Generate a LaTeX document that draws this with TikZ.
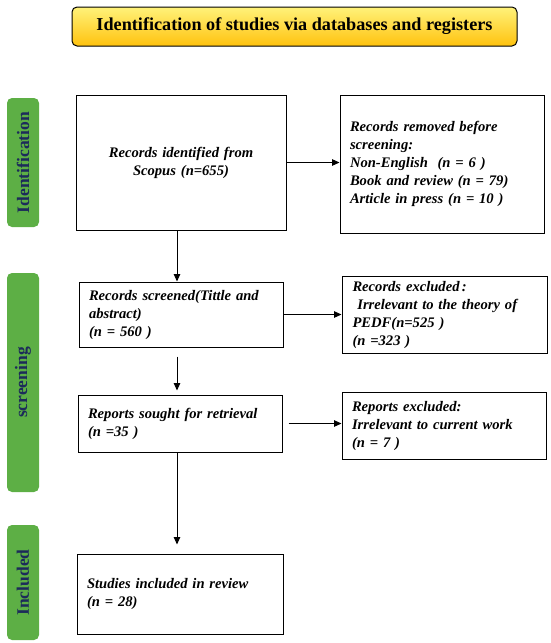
\documentclass[tikz,border=0pt]{standalone}
\usepackage{fontspec}
\setmainfont{Liberation Serif}
\usetikzlibrary{arrows.meta}

\definecolor{phasegreen}{HTML}{5DAF45}
\definecolor{phasetext}{HTML}{1C2B5A}
\definecolor{titletop}{HTML}{FFF27A}
\definecolor{titlebot}{HTML}{FFC20E}

\begin{document}
\begin{tikzpicture}[x=1pt,y=-1pt,
	box/.style={draw,line width=1pt,inner xsep=10pt,font=\fontsize{14.6}{18}\selectfont\bfseries\itshape},
	phase/.style={fill=phasegreen,rounded corners=5pt,rotate=90,minimum height=32pt,inner sep=0pt,text=phasetext,font=\fontsize{17.5}{20}\selectfont\bfseries},
	arr/.style={-{Triangle[width=6.5pt,length=7.5pt]},line width=1pt}]
			\useasboundingbox (0,0) rectangle (550,643);
			
			% title banner
			\node (title) [draw,line width=1pt,rounded corners=5pt,top color=titletop,bottom color=titlebot,minimum width=445pt,minimum height=39pt,font=\fontsize{18.2}{20}\selectfont\bfseries] at (294.5,26.5) {Identification of studies via databases and registers};
			
			% phases
			\node (pid) [phase,minimum width=129pt] at (23,162.5) {Identification};
			\node (pscr) [phase,minimum width=219pt] at (23,382.5) {screening};
			\node (pinc) [phase,minimum width=115pt] at (23,582.5) {Included};
			
			% left column
			\node (ident) [box,minimum width=204pt,minimum height=135pt,text width=190pt,align=center] at (181,162.5) {Records identified from\\ Scopus (\textit{n}=655)\\[10pt]};
			\node (screened) [box,minimum width=204pt,minimum height=65pt,text width=184pt,align=left] at (181,314.5) {Records screened(Tittle and\\ abstract)\\ (n = 560 )};
			\node (sought) [box,minimum width=204pt,minimum height=57pt,text width=184pt,align=left] at (180,423.5) {Reports sought for retrieval\\ (n =35 )};
			\node (incl) [box,minimum width=206pt,minimum height=80pt,text width=186pt,align=left] at (180,594) {Studies included in review\\ (n = 28)\\[8pt]};
			
			% right column
			\node (removed) [box,minimum width=204pt,minimum height=138pt,text width=184pt,align=left] at (442,164) {Records removed before\\ screening:\\ Non-English~ (n = 6 )\\ Book and review (n = 79)\\ Article in press (n = 10 )};
			\node (excluded) [box,minimum width=205pt,minimum height=77pt,text width=184pt,align=left] at (444.5,314.5) {Records excluded\,:\\ ~Irrelevant to the theory of\\ PEDF(n=525 )\\ (n =323 )};
			\node (repex) [box,minimum width=204pt,minimum height=67pt,text width=184pt,align=left] at (444,425.5) {Reports excluded:\\ Irrelevant to current work\\ (n = 7 )\\[10pt]};
			
			% arrows
			\draw [arr] (ident.east) -- (ident.east -| removed.west);
			\draw [arr] (screened.east) -- (screened.east -| excluded.west);
			\draw [arr,shorten <=6pt] (sought.east) -- (sought.east -| repex.west);
			\draw [arr] ([xshift=-4pt]ident.south) -- ([xshift=-4pt]screened.north);
			\draw [arr,shorten <=9pt,shorten >=4pt] ([xshift=-4pt]screened.south) -- ([xshift=-3pt]sought.north);
			\draw [arr,shorten >=9pt] ([xshift=-3pt]sought.south) -- ([xshift=-3pt]incl.north);
\end{tikzpicture}
\end{document}
